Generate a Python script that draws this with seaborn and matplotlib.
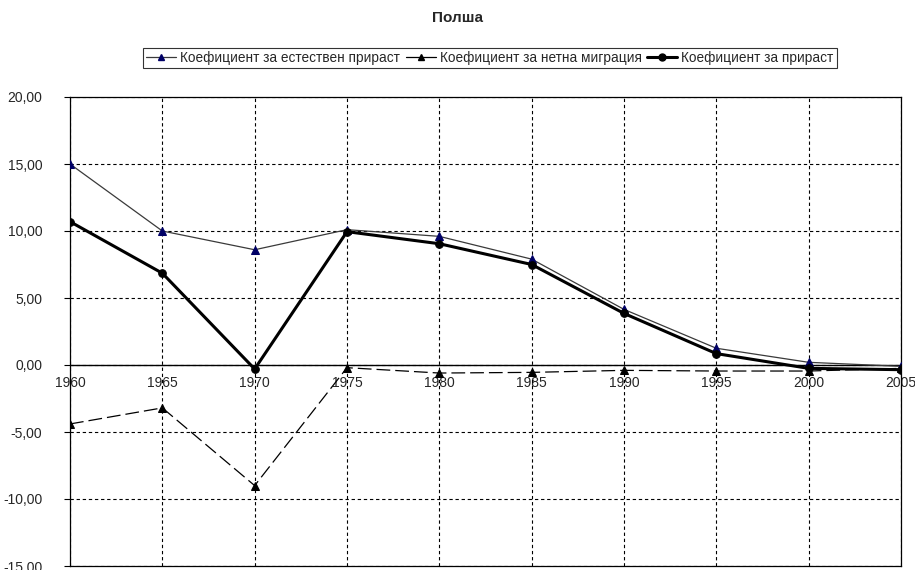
import matplotlib
matplotlib.use("Agg")
import matplotlib.pyplot as plt
import seaborn as sns
import pandas as pd
from matplotlib.lines import Line2D
from matplotlib.ticker import FuncFormatter

sns.set_style("white")
plt.rcParams['font.family'] = ['Liberation Sans', 'DejaVu Sans']

title = "Полша"
years = [1960, 1965, 1970, 1975, 1980, 1985, 1990, 1995, 2000, 2005]
natural = [15.0, 10.0, 8.6, 10.1, 9.6, 7.9, 4.15, 1.25, 0.2, -0.1]
migration = [-4.4, -3.2, -9.0, -0.2, -0.6, -0.55, -0.4, -0.45, -0.45, -0.25]
total = [10.7, 6.85, -0.3, 9.95, 9.05, 7.5, 3.85, 0.85, -0.25, -0.35]
labels = ["Коефициент за естествен прираст",
          "Коефициент за нетна миграция",
          "Коефициент за прираст"]
yticks = [-15, -10, -5, 0, 5, 10, 15, 20]

df = pd.DataFrame({"year": years, "nat": natural, "mig": migration, "tot": total})

fig = plt.figure(figsize=(9.15, 5.7), dpi=100)
ax = fig.add_axes([70/915, 1-566/570, (901-70)/915, (566-97)/570])

# grid
for yv in yticks:
    ax.axhline(yv, color="black", lw=0.8, ls=(0, (3, 2.5)), zorder=1)
for xv in years:
    ax.axvline(xv, color="black", lw=0.8, ls=(0, (3, 2.5)), zorder=1)
ax.axhline(0, color="black", lw=1.0, zorder=2)

sns.lineplot(data=df, x="year", y="nat", ax=ax, color="#3a3a3a", lw=0.9,
             marker="^", markersize=5.5, markerfacecolor="#000066",
             markeredgecolor="#000066", zorder=4)
sns.lineplot(data=df, x="year", y="mig", ax=ax, color="black", lw=0.9,
             marker="^", markersize=5.5, markerfacecolor="black",
             markeredgecolor="black", dashes=(11, 4), zorder=4)
sns.lineplot(data=df, x="year", y="tot", ax=ax, color="black", lw=2.2,
             marker="o", markersize=5.5, markerfacecolor="black",
             markeredgecolor="black", zorder=5)

ax.set_xlim(1960, 2005)
ax.set_ylim(-15, 20)
ax.set_yticks(yticks)
ax.yaxis.set_major_formatter(FuncFormatter(lambda v, p: f"{v:.2f}".replace(".", ",")))
ax.tick_params(axis="y", direction="out", length=4, width=0.8, color="black",
               labelsize=10, left=True, pad=16)
ax.set_xticks([])
ax.set_xlabel("")
ax.set_ylabel("")
for s in ax.spines.values():
    s.set_color("black")
    s.set_linewidth(0.9)

sec = ax.secondary_xaxis(15/35)
sec.set_xticks(years)
sec.set_xticklabels([str(y) for y in years])
sec.tick_params(axis="x", direction="inout", length=0, labelsize=10, pad=8)
sec.spines["bottom"].set_visible(False)

fig.text(0.5, 1-18/570, title, ha="center", va="center", fontsize=11, fontweight="bold")

handles = [
    Line2D([], [], color="#3a3a3a", lw=0.9, marker="^", markersize=5,
           markerfacecolor="#000066", markeredgecolor="#000066"),
    Line2D([], [], color="black", lw=0.9, marker="^", markersize=5,
           markerfacecolor="black", markeredgecolor="black"),
    Line2D([], [], color="black", lw=2.2, marker="o", markersize=5,
           markerfacecolor="black", markeredgecolor="black"),
]
leg = fig.legend(handles, labels, loc="center", bbox_to_anchor=(490/915, 1-58/570),
                 ncol=3, fontsize=9.8, frameon=True, fancybox=False,
                 handlelength=2.2, handletextpad=0.3, columnspacing=0.4,
                 borderpad=0.25, borderaxespad=0)
leg.get_frame().set_edgecolor("black")
leg.get_frame().set_linewidth(0.8)

fig.savefig("out.png", dpi=100)
